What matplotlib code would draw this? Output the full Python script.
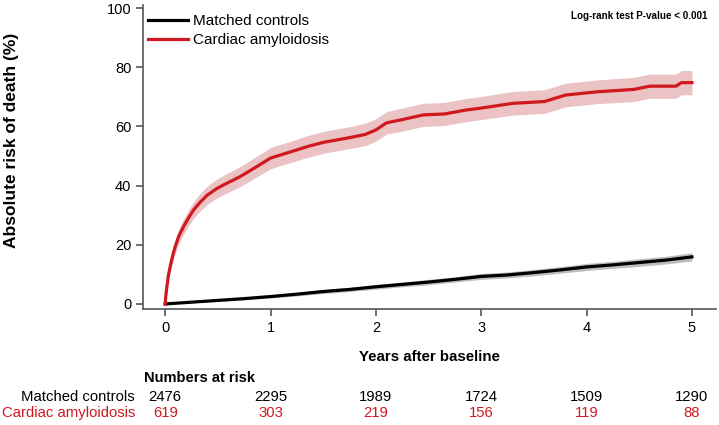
import matplotlib.pyplot as plt

plt.rcParams['font.family'] = ['Liberation Sans', 'DejaVu Sans']

# cumulative risk of death (%)
t_ca = [0, 0.005, 0.016, 0.03, 0.047, 0.07, 0.095, 0.13, 0.174, 0.22, 0.27, 0.33, 0.4, 0.49,
        0.585, 0.71, 0.85, 1.0, 1.2, 1.35, 1.5, 1.75, 1.9, 2.0, 2.1, 2.25, 2.45, 2.65, 2.85,
        3.0, 3.3, 3.6, 3.8, 4.1, 4.45, 4.6, 4.85, 4.9, 5.0]
ca = [0, 2.5, 5.8, 9.5, 12.6, 16.2, 19.4, 23.0, 26.1, 29.0, 31.8, 34.3, 36.8, 39.0,
      40.8, 43.0, 46.0, 49.3, 51.5, 53.2, 54.6, 56.2, 57.3, 58.8, 61.2, 62.3, 63.9, 64.2, 65.5,
      66.2, 67.8, 68.4, 70.6, 71.7, 72.5, 73.6, 73.6, 74.8, 74.8]
ca_lo = [0, 1.8, 4.6, 7.9, 10.7, 14.0, 17.0, 20.5, 23.5, 26.3, 29.0, 31.3, 33.7, 35.8,
         37.5, 39.6, 42.5, 45.7, 47.9, 49.5, 50.9, 52.5, 53.5, 55.0, 57.4, 58.4, 60.0, 60.3, 61.6,
         62.3, 63.8, 64.4, 66.6, 67.7, 68.4, 69.5, 69.5, 70.7, 70.7]
ca_hi = [0, 3.2, 7.0, 11.1, 14.5, 18.4, 21.8, 25.5, 28.7, 31.7, 34.6, 37.3, 39.9, 42.2,
         44.1, 46.4, 49.5, 52.9, 55.1, 56.9, 58.3, 59.9, 61.1, 62.6, 65.0, 66.2, 67.8, 68.1, 69.4,
         70.1, 71.8, 72.4, 74.6, 75.7, 76.6, 77.7, 77.7, 78.9, 78.9]

t_mc = [0, 0.25, 0.5, 0.75, 1.0, 1.25, 1.5, 1.75, 2.0, 2.25, 2.5, 2.75, 3.0, 3.25, 3.5,
        3.75, 4.0, 4.25, 4.5, 4.75, 5.0]
mc = [0, 0.6, 1.2, 1.8, 2.5, 3.3, 4.2, 4.9, 5.8, 6.6, 7.4, 8.3, 9.3, 9.8, 10.6,
      11.5, 12.5, 13.2, 14.0, 14.8, 15.9]
mc_lo = [0, 0.4, 0.9, 1.4, 2.0, 2.7, 3.5, 4.2, 5.0, 5.8, 6.5, 7.4, 8.3, 8.8, 9.5,
         10.4, 11.3, 12.0, 12.7, 13.5, 14.5]
mc_hi = [0, 0.8, 1.5, 2.2, 3.0, 3.9, 4.9, 5.6, 6.6, 7.4, 8.3, 9.2, 10.3, 10.8, 11.7,
         12.6, 13.7, 14.4, 15.3, 16.1, 17.3]

risk_years = [0, 1, 2, 3, 4, 5]
risk_mc = [2476, 2295, 1989, 1724, 1509, 1290]
risk_ca = [619, 303, 219, 156, 119, 88]

RED = '#d0191e'
AXC = '#555555'

fig = plt.figure(figsize=(7.19, 4.25), dpi=100)
ax = fig.add_axes([0.199, 0.273, 0.797, 0.715])

ax.fill_between(t_mc, mc_lo, mc_hi, color='#bdbdbd', lw=0)
ax.fill_between(t_ca, ca_lo, ca_hi, color='#ebc3c5', lw=0)
ax.plot(t_mc, mc, color='black', lw=2.3, label='Matched controls')
ax.plot(t_ca, ca, color=RED, lw=2.3, label='Cardiac amyloidosis')

ax.set_xlim(-0.21, 5.23)
ax.set_ylim(-1.7, 101)
ax.set_xticks(risk_years)
ax.set_yticks([0, 20, 40, 60, 80, 100])
for s in ['top', 'right']:
    ax.spines[s].set_visible(False)
for s in ['left', 'bottom']:
    ax.spines[s].set_color(AXC)
    ax.spines[s].set_linewidth(1.2)
ax.tick_params(colors=AXC, labelcolor='black', labelsize=10.5, length=5, width=1.2)

ax.set_xlabel('Years after baseline', fontsize=10.8, fontweight='bold', labelpad=11)
ax.set_ylabel('Absolute risk of death (%)', fontsize=12.5, fontweight='bold')
ax.yaxis.set_label_coords(-0.216, 0.556)

ax.legend(loc='upper left', bbox_to_anchor=(-0.015, 1.015), frameon=False, fontsize=11,
          handlelength=2.6, labelspacing=0.3, handletextpad=0.35)

ax.text(0.985, 0.965, 'Log-rank test P-value < 0.001', transform=ax.transAxes,
        ha='right', va='center', fontsize=7.1, fontweight='bold')

# numbers at risk table
fig.text(144 / 719, 1 - 378 / 425, 'Numbers at risk', fontsize=10.5, fontweight='bold',
         ha='left', va='center')
fig.text(135 / 719, 1 - 397 / 425, 'Matched controls', fontsize=10.7, ha='right', va='center')
fig.text(135 / 719, 1 - 413 / 425, 'Cardiac amyloidosis', fontsize=10.7, ha='right',
         va='center', color=RED)
for x, a, b in zip(risk_years, risk_mc, risk_ca):
    xf = fig.transFigure.inverted().transform(ax.transData.transform((x, 0)))[0]
    fig.text(xf, 1 - 397 / 425, str(a), fontsize=10.7, ha='center', va='center')
    fig.text(xf, 1 - 413 / 425, str(b), fontsize=10.7, ha='center', va='center', color=RED)

fig.savefig('out.png', dpi=100)
